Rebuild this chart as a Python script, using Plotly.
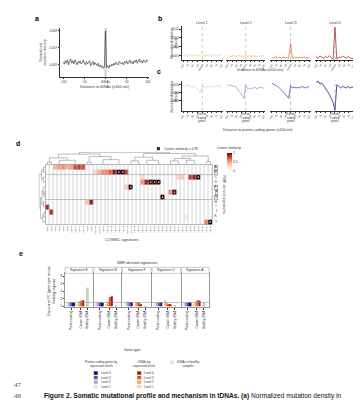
import plotly.graph_objects as go

W, H = 361, 400
def px(x): return x / W
def py(y): return 1 - y / H

FONT = "Liberation Sans"
TXT = "#333333"

# ---------------- data ----------------
# panel a : normalized mutation density around tDNAs (x1e-3)
a_dist = [i * 2.5 for i in range(-40, 41)]
a_density = [5.3, 5.1, 5.5, 5.2, 5.6, 5.0, 5.4, 5.7, 5.2, 5.5,
             5.1, 5.6, 5.3, 5.0, 5.4, 5.2, 5.5, 5.1, 5.3, 5.6,
             5.2, 5.0, 5.4, 5.1, 5.3, 5.5, 4.9, 5.2, 5.4, 5.0,
             5.3, 5.1, 4.9, 5.2, 4.8, 5.0, 4.7, 4.9, 4.6, 4.8,
             9.0,
             4.7, 4.9, 4.6, 5.0, 4.8, 5.1, 4.9, 5.2, 5.0, 5.3,
             5.1, 5.0, 5.4, 5.2, 5.1, 5.3, 5.0, 5.4, 5.2, 5.5,
             5.1, 5.3, 5.6, 5.2, 5.4, 5.1, 5.5, 5.3, 5.6, 5.2,
             5.4, 5.7, 5.3, 5.5, 5.2, 5.6, 5.4, 5.3, 5.6, 5.4]
a_ticks = [-100, -50, 0, 50, 100]
a_ticktext = ["-100", "-50", "tDNAs", "50", "100"]

# panel b : by tDNA expression level (x1e-3)
b_levels = ["Level 1", "Level 2", "Level 3", "Level 4"]
b_dist = list(range(-100, 101, 10))
b_level1 = [5.5, 5.0, 5.8, 5.2, 5.6, 5.1, 5.7, 5.3, 5.5, 5.0, 6.0, 5.2, 5.6, 5.1, 5.4, 5.8, 5.2, 5.5, 5.0, 5.6, 5.3]
b_level2 = [4.8, 5.0, 4.6, 5.1, 4.9, 4.7, 5.2, 4.8, 5.0, 4.6, 5.5, 4.7, 5.0, 4.8, 5.1, 4.9, 4.6, 5.0, 4.8, 5.1, 4.9]
b_level3 = [4.2, 3.8, 4.5, 4.0, 4.3, 3.7, 4.4, 3.9, 4.1, 3.5, 12.0, 3.6, 4.0, 4.4, 3.8, 4.2, 4.0, 4.3, 3.9, 4.1, 4.0]
b_level4 = [4.5, 3.8, 5.0, 4.2, 3.6, 4.8, 4.0, 5.2, 3.9, 3.0, 21.0, 3.2, 4.5, 3.8, 5.0, 4.1, 3.7, 4.6, 4.0, 3.5, 3.8]
b_colors = ["#f9c996", "#f2b06e", "#e0632b", "#a3141c"]
b_ticks = [-100, -75, -50, -25, 0, 25, 50, 75, 100]
b_ticktext = ["-100", "-75", "-50", "-25", "tDNAs", "25", "50", "75", "100"]

# panel c : by protein-coding gene expression level (x1e-3)
c_dist = list(range(-100, 101, 10))
c_level1 = [4.9, 4.8, 5.0, 4.9, 4.8, 4.7, 4.8, 4.6, 4.3, 4.0, 4.8, 4.7, 4.8, 4.7, 4.9, 4.8, 4.7, 4.8, 4.9, 4.8, 4.7]
c_level2 = [5.0, 4.9, 5.0, 4.8, 4.9, 4.6, 4.4, 4.1, 3.7, 3.3, 4.9, 4.5, 4.6, 4.5, 4.6, 4.7, 4.5, 4.6, 4.7, 4.6, 4.6]
c_level3 = [5.2, 5.1, 5.0, 4.8, 4.6, 4.4, 4.1, 3.9, 3.6, 3.3, 4.9, 4.6, 4.7, 4.6, 4.7, 4.6, 4.8, 4.7, 4.6, 4.7, 4.8]
c_level4 = [5.3, 5.5, 5.1, 5.2, 4.9, 4.6, 4.2, 3.8, 3.3, 2.8, 1.8, 5.0, 4.8, 4.6, 4.8, 4.7, 4.6, 4.8, 4.6, 4.7, 4.7]
c_colors = ["#cfcfe0", "#9c9ad0", "#4f4fae", "#1b1f78"]
c_ticktext = ["-100", "-75", "-50", "-25", "", "25", "50", "75", "100"]

# panel d : cosine similarity NMF vs COSMIC
d_rows = ["A", "B", "C", "D", "E", "F", "G", "H", "I", "J", "K", "L"]
d_cols = ["SBS1", "SBS2", "SBS3", "SBS4", "SBS5", "SBS6", "SBS7a", "SBS7b", "SBS7c", "SBS7d",
          "SBS8", "SBS9", "SBS10a", "SBS10b", "SBS11", "SBS12", "SBS13", "SBS14", "SBS15", "SBS16",
          "SBS17a", "SBS17b", "SBS18", "SBS19", "SBS20", "SBS21", "SBS22", "SBS23", "SBS24", "SBS25",
          "SBS26", "SBS28", "SBS29", "SBS30", "SBS31", "SBS32", "SBS33", "SBS34", "SBS35", "SBS36",
          "SBS37", "SBS38"]
d_A = [(2, 0.45), (3, 0.5), (4, 0.55), (5, 0.45), (6, 0.5), (7, 0.75), (8, 0.8), (9, 0.75)]
d_B = [(12, 0.25), (13, 0.45), (14, 0.55), (15, 0.6), (16, 0.7), (17, 0.93), (18, 0.97), (19, 0.97), (20, 0.8)]
d_C = [(24, 0.25), (33, 0.3), (34, 0.35), (36, 0.8), (37, 0.9), (38, 0.97)]
d_D = [(24, 0.55), (25, 0.9), (26, 0.97), (27, 0.97), (28, 0.97)]
d_E = [(20, 0.35), (21, 0.97)]
d_F = [(31, 0.55), (32, 0.97)]
d_G = [(29, 0.97)]
d_H = [(10, 0.4), (11, 0.9)]
d_I = [(0, 0.85)]
d_J = [(1, 0.85)]
d_K = [(35, 0.15)]
d_L = [(40, 0.6), (41, 0.97)]
d_high = [(1, 18), (1, 19), (2, 38), (3, 26), (3, 27), (3, 28), (4, 21), (5, 32), (6, 29), (11, 41)]
d_top_links = [(0, 1, 0, 0, 0.2), (3, 7, 0, 0, 0.35), (10, 11, 0, 0, 0.2), (14, 18, 0, 0, 0.4),
               (21, 23, 0, 0, 0.3), (25, 28, 0, 0, 0.35), (31, 33, 0, 0, 0.3), (35, 37, 0, 0, 0.35),
               (40, 41, 0, 0, 0.25), (0.5, 5, 0.2, 0.35, 0.55), (10.5, 16, 0.2, 0.4, 0.65),
               (22, 26.5, 0.3, 0.35, 0.6), (32, 36, 0.3, 0.35, 0.5), (34, 40.5, 0.5, 0.25, 0.7),
               (2.75, 13.25, 0.55, 0.65, 0.85), (24.25, 37.25, 0.6, 0.7, 0.9), (8, 30.75, 0.85, 0.9, 1.0)]
d_left_links = [(0, 1, 0, 0, 0.3), (2, 3, 0, 0, 0.35), (5, 6, 0, 0, 0.2), (4, 5.5, 0, 0.2, 0.35),
                (7, 8, 0, 0, 0.3), (9, 10, 0, 0, 0.25), (9.5, 11, 0.25, 0, 0.4),
                (0.5, 2.5, 0.3, 0.35, 0.6), (4.75, 7.5, 0.35, 0.3, 0.55),
                (6.125, 10.25, 0.55, 0.4, 0.75), (1.5, 8.2, 0.6, 0.75, 1.0)]

# panel e : exposure fold change
e_signatures = ["Signature E", "Signature B", "Signature F", "Signature D", "Signature A"]
e_groups = ["Protein coding", "Cancer tDNA", "Healthy tDNA"]
e_protein = [[1.0, 1.0, 1.0, 1.0], [1.0, 1.0, 1.0, 1.0], [1.2, 1.2, 1.1, 1.1], [1.0, 1.0, 1.0, 1.0], [1.0, 1.0, 1.0, 1.0]]
e_cancer = [[0.6, 1.3, 1.5, 1.6], [0.6, 1.3, 2.4, 2.7], [0.6, 1.1, 1.0, 0.3], [1.7, 1.0, 0.6, 0.5], [0.7, 1.2, 1.7, 1.5]]
e_healthy = [4.9, 0.1, 0.05, 0.2, 0.9]
e_prot_colors = ["#e2e2f0", "#a6a6d6", "#5656ac", "#101070"]
e_canc_colors = ["#fdd3a5", "#f6a55d", "#e0561b", "#a3141c"]
e_levels = ["Level 4", "Level 3", "Level 2", "Level 1"]

# ---------------- figure ----------------
fig = go.Figure()
layout = {}
shapes = []
ann = []

def A(x, y, text, size=3.6, angle=0, xanchor="center", yanchor="middle", bold=False, color=TXT, **kw):
    t = f"<b>{text}</b>" if bold else text
    ann.append(dict(x=px(x), y=py(y), xref="paper", yref="paper", text=t, showarrow=False,
                    textangle=angle, xanchor=xanchor, yanchor=yanchor,
                    font=dict(size=size, color=color, family=FONT), **kw))

def axis(n, dom, rng, anchor, **kw):
    base = dict(domain=dom, range=rng, anchor=anchor, showgrid=False, zeroline=False,
                showline=True, linecolor="#333", linewidth=0.6, ticks="outside", ticklen=1.5,
                tickwidth=0.5, tickcolor="#333", tickfont=dict(size=3.2, color=TXT, family=FONT))
    base.update(kw)
    return base

def xa(n): return "x" if n == 1 else f"x{n}"
def ya(n): return "y" if n == 1 else f"y{n}"
def xkey(n): return "xaxis" if n == 1 else f"xaxis{n}"
def ykey(n): return "yaxis" if n == 1 else f"yaxis{n}"

# ----- panel a -----
A(26, 11, "a", size=7, bold=True, color="#000")
fig.add_trace(go.Scatter(x=a_dist, y=[v / 1000 for v in a_density], mode="lines",
                         line=dict(color="#222", width=0.6), xaxis="x", yaxis="y"))
shapes.append(dict(type="rect", xref="x", yref="y domain", x0=-3, x1=3, y0=0, y1=1,
                   fillcolor="#d8d8d8", line=dict(width=0), layer="below"))
layout["xaxis"] = axis(1, [px(50), px(140)], [-107, 103], "y", tickvals=a_ticks, ticktext=a_ticktext)
layout["yaxis"] = axis(1, [py(69), py(20)], [0.0036, 0.00935], "x", tickvals=[0.005, 0.007, 0.009],
                       ticktext=["0.005", "0.007", "0.009"])
A(95, 79, "Distance to tDNAs (x100 nts)", size=3.8)
A(33, 45, "Normalized<br>mutation density", size=3.6, angle=-90)

# ----- panel b -----
A(151, 11, "b", size=7, bold=True, color="#000")
b_dom = [(173, 215), (218, 258), (263, 304), (308, 349)]
b_vals = [b_level1, b_level2, b_level3, b_level4]
for i in range(4):
    n = 2 + i
    fig.add_trace(go.Scatter(x=b_dist, y=[v / 1000 for v in b_vals[i]], mode="lines",
                             line=dict(color=b_colors[i], width=0.7), xaxis=xa(n), yaxis=ya(n)))
    layout[xkey(n)] = axis(n, [px(b_dom[i][0]), px(b_dom[i][1])], [-108, 108], ya(n),
                           tickvals=b_ticks, ticktext=b_ticktext, tickangle=-60,
                           tickfont=dict(size=2.6, color=TXT, family=FONT))
    yk = dict(tickvals=[0.005, 0.01, 0.015, 0.02], ticktext=["0.005", "0.010", "0.015", "0.02"])
    if i > 0:
        yk = dict(showline=False, showticklabels=False, ticks="")
    layout[ykey(n)] = axis(n, [py(52), py(18)], [0.0028, 0.0217], xa(n), **yk)
    shapes.append(dict(type="line", xref=xa(n), yref="paper", x0=0, x1=0, y0=py(52), y1=py(19),
                       line=dict(color="#888", width=0.5, dash="dot")))
    A((b_dom[i][0] + b_dom[i][1]) / 2, 15, b_levels[i], size=3.6)
A(165, 35, "Normalized mutation<br>density", size=3.4, angle=-90)
A(252, 62, "Distance to tDNAs (x100 nts)", size=3.6)
shapes.append(dict(type="rect", xref="paper", yref="paper", x0=px(350), x1=px(357), y0=py(42), y1=py(18),
                   fillcolor="#e4e4e4", line=dict(color="#777", width=0.6)))
A(353.5, 30, "tDNA expression<br>level", size=2.6, angle=90)

# ----- panel c -----
A(150, 64, "c", size=7, bold=True, color="#000")
c_vals = [c_level1, c_level2, c_level3, c_level4]
for i in range(4):
    n = 6 + i
    fig.add_trace(go.Scatter(x=c_dist, y=[v / 1000 for v in c_vals[i]], mode="lines",
                             line=dict(color=c_colors[i], width=0.8), xaxis=xa(n), yaxis=ya(n)))
    layout[xkey(n)] = axis(n, [px(b_dom[i][0]), px(b_dom[i][1])], [-108, 108], ya(n),
                           tickvals=b_ticks, ticktext=c_ticktext, tickangle=-60,
                           tickfont=dict(size=2.6, color=TXT, family=FONT))
    yk = dict(tickvals=[0.003, 0.004, 0.005], ticktext=["0.003", "0.004", "0.005"])
    if i > 0:
        yk = dict(showline=False, showticklabels=False, ticks="")
    layout[ykey(n)] = axis(n, [py(103), py(73)], [0.00175, 0.0055], xa(n), **yk)
    shapes.append(dict(type="line", xref=xa(n), yref="paper", x0=0, x1=0, y0=py(103), y1=py(72),
                       line=dict(color="#888", width=0.5, dash="dot")))
    A((b_dom[i][0] + b_dom[i][1]) / 2, 110, "Protein-<br>coding<br>genes", size=2.8)
A(165, 89, "Normalized mutation<br>density", size=3.4, angle=-90)
A(250, 122, "Distance to protein-coding genes (x100 nts)", size=3.6)
shapes.append(dict(type="rect", xref="paper", yref="paper", x0=px(350), x1=px(357), y0=py(100), y1=py(72),
                   fillcolor="#e4e4e4", line=dict(color="#777", width=0.6)))
A(353.5, 86, "Overall<br>expression level", size=2.6, angle=90)

# ----- panel d -----
A(7, 136, "d", size=7, bold=True, color="#000")
d_sparse = [d_A, d_B, d_C, d_D, d_E, d_F, d_G, d_H, d_I, d_J, d_K, d_L]
z = [[0.0] * len(d_cols) for _ in d_rows]
for r, cells in enumerate(d_sparse):
    for c, v in cells:
        z[r][c] = v
fig.add_trace(go.Heatmap(z=z, x=list(range(len(d_cols))), y=list(range(len(d_rows))),
                         coloraxis="coloraxis", xgap=0.7, xaxis="x10", yaxis="y10", hoverinfo="skip"))
shapes.append(dict(type="rect", xref="x10 domain", yref="y10 domain", x0=0, x1=1, y0=0, y1=1,
                   fillcolor="#c4c4c4", line=dict(color="#777", width=0.6), layer="below"))
for yb in [1.5, 6.5]:
    shapes.append(dict(type="line", xref="x10 domain", yref="y10", x0=0, x1=1, y0=yb, y1=yb,
                       line=dict(color="#999", width=0.6)))
layout["xaxis10"] = dict(domain=[px(35), px(204)], range=[-0.5, 41.5], anchor="y10", showgrid=False,
                         zeroline=False, showline=False, ticks="", tickvals=list(range(len(d_cols))),
                         ticktext=d_cols, tickangle=-90, tickfont=dict(size=2.2, color=TXT, family=FONT))
layout["yaxis10"] = dict(domain=[py(217), py(157)], range=[11.5, -0.5], anchor="x10", showgrid=False,
                         zeroline=False, showline=False, ticks="", showticklabels=False)
hx = [c for r, c in d_high]
hy = [r for r, c in d_high]
fig.add_trace(go.Scatter(x=hx, y=hy, mode="markers", xaxis="x10", yaxis="y10",
                         marker=dict(symbol="square", size=3.6, color="#111")))
fig.add_trace(go.Scatter(x=hx, y=hy, mode="markers", xaxis="x10", yaxis="y10",
                         marker=dict(symbol="square", size=1.3, color="#fff")))
# dendrograms
tx, ty = [], []
for xl, xr, yl, yr, h in d_top_links:
    tx += [xl, xl, xr, xr, None]
    ty += [yl, h, h, yr, None]
fig.add_trace(go.Scatter(x=tx, y=ty, mode="lines", line=dict(color="#777", width=0.5),
                         xaxis="x11", yaxis="y11"))
layout["xaxis11"] = dict(domain=[px(35), px(204)], range=[-0.5, 41.5], anchor="y11", visible=False)
layout["yaxis11"] = dict(domain=[py(157), py(144)], range=[0, 1.05], anchor="x11", visible=False)
lx, ly = [], []
for yl_, yr_, xl_, xr_, h in d_left_links:
    ly += [yl_, yl_, yr_, yr_, None]
    lx += [xl_, h, h, xr_, None]
fig.add_trace(go.Scatter(x=lx, y=ly, mode="lines", line=dict(color="#777", width=0.5),
                         xaxis="x12", yaxis="y12"))
layout["xaxis12"] = dict(domain=[px(28), px(35)], range=[1.05, 0], anchor="y12", visible=False)
layout["yaxis12"] = dict(domain=[py(217), py(157)], range=[11.5, -0.5], anchor="x12", visible=False)
for i, r in enumerate(d_rows):
    boxed = r in ("A", "B", "E", "F", "G")
    ann.append(dict(x=px(208), y=i, xref="paper", yref="y10", text=r, showarrow=False,
                    font=dict(size=3.4, color=TXT, family=FONT), xanchor="center", yanchor="middle",
                    bordercolor="#555" if boxed else "rgba(0,0,0,0)", borderwidth=0.4, borderpad=0))
A(216, 187, "NMF-derived signatures", size=3.6, angle=90)
A(113, 233, "COSMIC signatures", size=3.8)
shapes.append(dict(type="rect", xref="paper", yref="paper", x0=px(148), x1=px(151), y0=py(142.5), y1=py(139.5),
                   fillcolor="#111", line=dict(width=0)))
shapes.append(dict(type="rect", xref="paper", yref="paper", x0=px(149.2), x1=px(149.8), y0=py(141.3), y1=py(140.7),
                   fillcolor="#fff", line=dict(width=0)))
A(153, 141, "Cosine similarity ≥ 0.95", size=3.3, xanchor="left")
A(221, 140, "Cosine similarity", size=3.3)

# ----- panel e -----
A(10, 246, "e", size=7, bold=True, color="#000")
e_dom = [(55, 83), (84, 112), (113, 142), (143, 172), (173, 201)]
grp_center = [6, 15.5, 22.5]
for s in range(5):
    n = 13 + s
    xs = [grp_center[0] + (k - 1.5) * 2.0 for k in range(4)]
    fig.add_trace(go.Bar(x=xs, y=e_protein[s], width=[2.0] * 4, marker=dict(color=e_prot_colors, line=dict(width=0)),
                         xaxis=xa(n), yaxis=ya(n)))
    xs = [grp_center[1] + (k - 1.5) * 1.8 for k in range(4)]
    fig.add_trace(go.Bar(x=xs, y=e_cancer[s], width=[1.8] * 4, marker=dict(color=e_canc_colors, line=dict(width=0)),
                         xaxis=xa(n), yaxis=ya(n)))
    fig.add_trace(go.Bar(x=[grp_center[2]], y=[e_healthy[s]], width=[1.8],
                         marker=dict(color="#d4d4d4", line=dict(color="#999", width=0.4)),
                         xaxis=xa(n), yaxis=ya(n)))
    layout[xkey(n)] = axis(n, [px(e_dom[s][0]), px(e_dom[s][1])], [0, 28], ya(n), mirror=True,
                           linecolor="#999", tickvals=grp_center, ticktext=e_groups, tickangle=-90,
                           tickfont=dict(size=3.0, color=TXT, family=FONT))
    yk = dict(tickvals=[0, 2, 4, 6, 8])
    if s > 0:
        yk = dict(showticklabels=False, ticks="")
    layout[ykey(n)] = axis(n, [py(300), py(266)], [-0.27, 8.8], xa(n), mirror=True, linecolor="#999", **yk)
    shapes.append(dict(type="line", xref=f"{xa(n)} domain", yref=ya(n), x0=0, x1=1, y0=1, y1=1,
                       line=dict(color="#888", width=0.5)))
    shapes.append(dict(type="rect", xref="paper", yref="paper", x0=px(e_dom[s][0]), x1=px(e_dom[s][1]),
                       y0=py(266), y1=py(260), fillcolor="#fff", line=dict(color="#999", width=0.5)))
    A((e_dom[s][0] + e_dom[s][1]) / 2, 263, e_signatures[s], size=3.4)
A(128, 256, "NMF-derived signatures", size=3.8)
A(41, 283, "Exposures FC (gene type versus<br>flanking regions)", size=3.4, angle=-90)
A(123, 343, "Gene type", size=3.6)

# legend of panel e
A(92, 357, "Protein-coding genes by<br>expression levels", size=3.0)
A(135, 357, "tDNAs by<br>expressed levels", size=3.0)
A(180, 357, "tDNAs in healthy<br>samples", size=3.0)
shapes.append(dict(type="rect", xref="paper", yref="paper", x0=px(162), x1=px(164.5), y0=py(356.5), y1=py(354),
                   fillcolor="#fff", line=dict(color="#999", width=0.4)))
for k in range(4):
    yy = 366 + k * 4.5
    shapes.append(dict(type="rect", xref="paper", yref="paper", x0=px(84), x1=px(88), y0=py(yy + 1.7), y1=py(yy - 1.7),
                       fillcolor=e_prot_colors[3 - k], line=dict(width=0)))
    shapes.append(dict(type="rect", xref="paper", yref="paper", x0=px(128), x1=px(132), y0=py(yy + 1.7), y1=py(yy - 1.7),
                       fillcolor=e_canc_colors[3 - k], line=dict(width=0)))
    A(89, yy, e_levels[k], size=3.0, xanchor="left")
    A(133, yy, e_levels[k], size=3.0, xanchor="left")

# page text
ann.append(dict(x=px(1), y=py(384), xref="paper", yref="paper", text="47", showarrow=False, xanchor="left",
                font=dict(size=7, color="#555", family="Liberation Serif")))
ann.append(dict(x=px(1), y=py(395), xref="paper", yref="paper", text="48", showarrow=False, xanchor="left",
                font=dict(size=7, color="#555", family="Liberation Serif")))
ann.append(dict(x=px(31), y=py(395), xref="paper", yref="paper", showarrow=False, xanchor="left",
                text="<b>Figure 2. Somatic mutational profile and mechanism in tDNAs. (a)</b> Normalized mutation density in",
                font=dict(size=6.6, color="#111", family=FONT)))

layout.update(dict(
    width=W, height=H, autosize=False, margin=dict(l=0, r=0, t=0, b=0),
    paper_bgcolor="#fff", plot_bgcolor="rgba(0,0,0,0)", showlegend=False, barmode="overlay",
    font=dict(family=FONT, color=TXT),
    coloraxis=dict(cmin=0, cmax=1,
                   colorscale=[[0, "#ffffff"], [0.4, "#fcc5ab"], [0.7, "#ef5a3a"], [1, "#67000d"]],
                   colorbar=dict(x=px(219), xanchor="left", y=py(154), yanchor="middle", len=18 / H,
                                 thickness=5, outlinewidth=0, xpad=0, ypad=0, tickvals=[0, 0.5, 1],
                                 ticktext=["0", "0.5", "1"], ticks="", tickfont=dict(size=3.3, color=TXT, family=FONT))),
    shapes=shapes, annotations=ann,
))
fig.update_layout(**layout)
fig.write_html("out.html")
